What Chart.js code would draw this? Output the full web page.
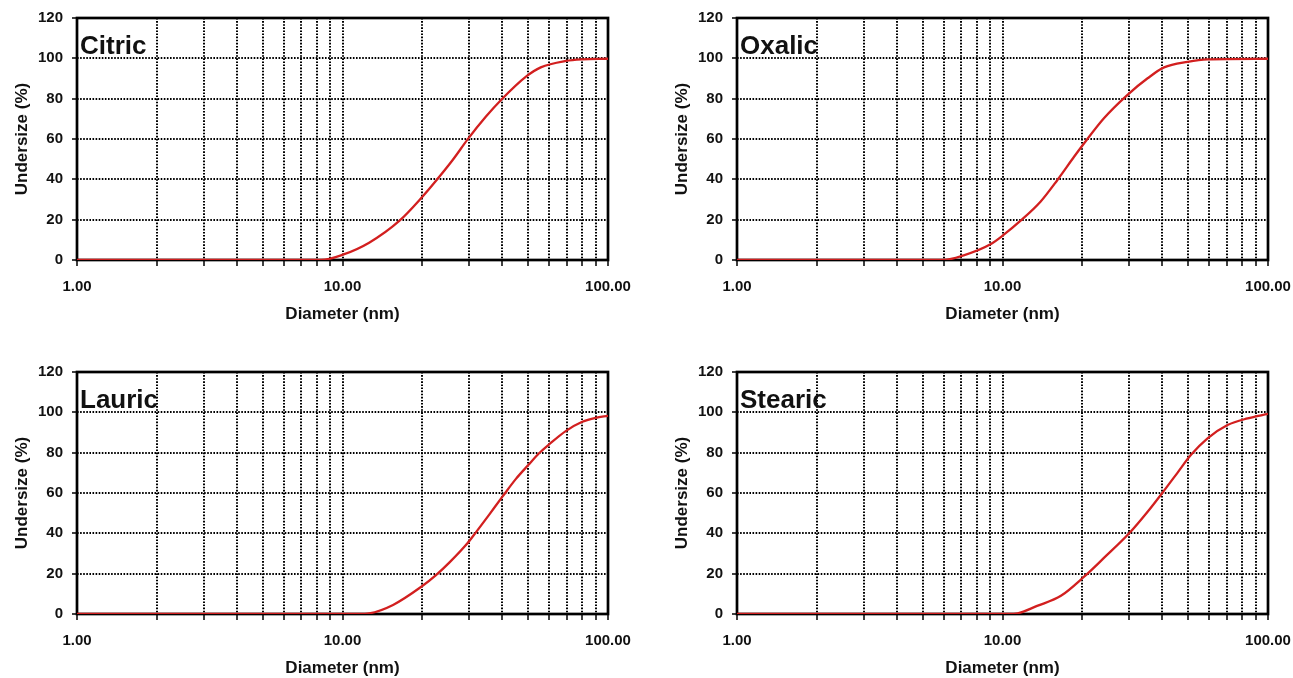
<!DOCTYPE html>
<html>
<head>
<meta charset="utf-8">
<script src="https://cdn.jsdelivr.net/npm/chart.js@4/dist/chart.umd.min.js"></script>
<style>
  body { margin: 0; background: #fff; }
  .wrap { position: relative; width: 1293px; height: 678px; }
  .box { position: absolute; width: 646px; height: 339px; }
</style>
</head>
<body>
<div class="wrap">
  <div class="box" style="left:0;top:0"><canvas id="c1"></canvas></div>
  <div class="box" style="left:660px;top:0"><canvas id="c2"></canvas></div>
  <div class="box" style="left:0;top:354px"><canvas id="c3"></canvas></div>
  <div class="box" style="left:660px;top:354px"><canvas id="c4"></canvas></div>
</div>
<script>
// diameter (nm) / undersize (%)
const citricD = [1, 8.3, 9.97, 12.6, 16.4, 20, 22.5, 26, 29.6, 34.7, 39.8, 49.1, 55.8, 69.4, 80.1, 100];
const citricU = [0, 0, 2.5, 8.6, 19.5, 31.4, 39.3, 49.6, 59.8, 71.1, 79.7, 90.9, 95.5, 98.7, 99.5, 99.8];

const oxalicD = [1, 6, 7.14, 9.01, 10.06, 11.7, 13.9, 16.1, 18.6, 20.3, 24.1, 29.5, 35.2, 40.6, 49.8, 59.2, 100];
const oxalicU = [0, 0, 2.3, 7.8, 12.3, 19.5, 28.9, 39.7, 51.2, 57.9, 70.3, 81.8, 90.1, 95.5, 98.3, 99.5, 99.8];

const lauricD = [1, 11.5, 12.6, 15.5, 19.8, 22.5, 25.3, 29.6, 31.8, 35.7, 40.1, 45, 50.2, 55, 60, 69.3, 80, 89.9, 100];
const lauricU = [0, 0, 0.3, 4.5, 13.5, 19.3, 25.6, 35.2, 40.5, 49.3, 58.3, 67, 74, 79.7, 84.1, 90.7, 95.3, 97.3, 98.3];

const stearicD = [1, 10.5, 11.4, 13.5, 16.6, 20.3, 24.1, 30, 35.2, 40.6, 45.6, 51.2, 59.2, 70.4, 83.8, 100];
const stearicU = [0, 0, 0.3, 4.0, 9.0, 18.5, 27.8, 40, 50.7, 61.2, 70, 78.8, 87.1, 93.7, 97, 99.2];

const xGrid = [1, 2, 3, 4, 5, 6, 7, 8, 9, 10, 20, 30, 40, 50, 60, 70, 80, 90, 100];
const xLabelled = [1, 10, 100];
const yTicks = [0, 20, 40, 60, 80, 100, 120];

const panels = [
  { id: "c1", name: "Citric", d: citricD, u: citricU },
  { id: "c2", name: "Oxalic", d: oxalicD, u: oxalicU },
  { id: "c3", name: "Lauric", d: lauricD, u: lauricU },
  { id: "c4", name: "Stearic", d: stearicD, u: stearicU }
];

const FONT = "Arial, 'Liberation Sans', sans-serif";

// thick frame round the plot, drawn under the curve
const frame = {
  id: "frame",
  beforeDatasetsDraw(chart) {
    const a = chart.chartArea, ctx = chart.ctx;
    ctx.save();
    ctx.strokeStyle = "#000";
    ctx.lineWidth = 2.7;
    ctx.strokeRect(a.left, a.top, a.right - a.left, a.bottom - a.top);
    ctx.restore();
  }
};

const panelLabel = {
  id: "panelLabel",
  afterDatasetsDraw(chart, args, opts) {
    const a = chart.chartArea, ctx = chart.ctx;
    ctx.save();
    ctx.font = "bold 26px " + FONT;
    ctx.fillStyle = "#111";
    ctx.textBaseline = "alphabetic";
    ctx.fillText(opts.text, a.left + 3, a.top + 36);
    ctx.restore();
  }
};

panels.forEach(p => {
  new Chart(document.getElementById(p.id), {
    type: "scatter",
    data: {
      datasets: [{
        data: p.d.map((d, i) => ({ x: d, y: p.u[i] })),
        showLine: true,
        borderColor: "#d21f1f",
        borderWidth: 2.3,
        pointRadius: 0,
        cubicInterpolationMode: "monotone"
      }]
    },
    options: {
      responsive: true,
      maintainAspectRatio: false,
      animation: false,
      layout: { padding: { top: 18, right: 38, left: 0, bottom: 0 } },
      plugins: {
        legend: { display: false },
        tooltip: { enabled: false },
        panelLabel: { text: p.name }
      },
      scales: {
        x: {
          type: "logarithmic",
          min: 1,
          max: 100,
          afterBuildTicks: s => { s.ticks = xGrid.map(v => ({ value: v })); },
          afterFit: s => { s.height = 79; s.paddingLeft = 0; s.paddingRight = 0; },
          ticks: {
            autoSkip: false,
            maxRotation: 0,
            padding: 12,
            color: "#111",
            font: { family: FONT, size: 15, weight: "bold" },
            callback: v => xLabelled.includes(v) ? v.toFixed(2) : ""
          },
          grid: {
            color: "#000",
            lineWidth: 2,
            tickLength: 6,
            tickWidth: 1.5,
            tickBorderDash: []
          },
          border: { display: false, dash: [1.6, 1.5] },
          title: {
            display: true,
            text: "Diameter (nm)",
            color: "#111",
            font: { family: FONT, size: 17, weight: "bold" },
            padding: { top: 0, bottom: 14 }
          }
        },
        y: {
          min: 0,
          max: 120,
          afterBuildTicks: s => { s.ticks = yTicks.map(v => ({ value: v })); },
          afterFit: s => { s.width = 77; s.paddingTop = 0; s.paddingBottom = 0; },
          ticks: {
            padding: 9,
            color: "#111",
            font: { family: FONT, size: 15, weight: "bold" }
          },
          grid: {
            color: "#000",
            lineWidth: 2,
            tickLength: 5,
            tickWidth: 1.5,
            tickBorderDash: []
          },
          border: { display: false, dash: [1.6, 1.5] },
          title: {
            display: true,
            text: "Undersize (%)",
            color: "#111",
            font: { family: FONT, size: 17, weight: "bold" },
            padding: { top: 12, bottom: 0 }
          }
        }
      }
    },
    plugins: [frame, panelLabel]
  });
});
</script>
</body>
</html>
